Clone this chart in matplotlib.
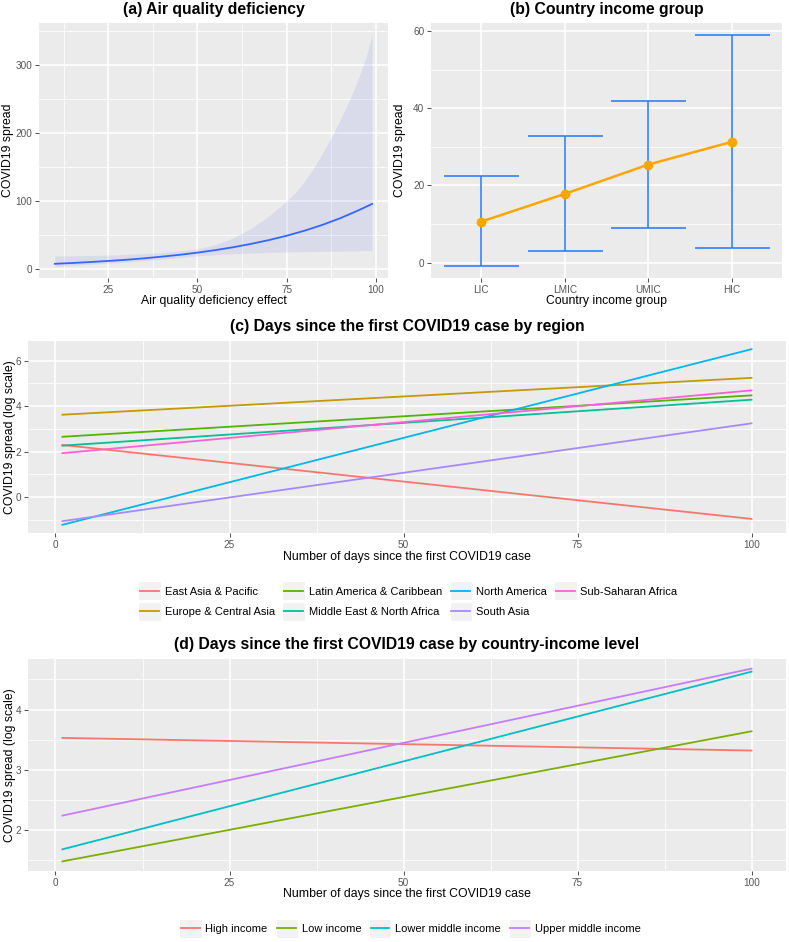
import matplotlib.pyplot as plt
from matplotlib.lines import Line2D
from matplotlib.patches import Rectangle
from matplotlib.legend_handler import HandlerBase
from matplotlib.ticker import MultipleLocator

plt.rcParams['font.family'] = ['Liberation Sans', 'DejaVu Sans']

# (a) air quality deficiency: fitted spread with confidence band
aq_effect = [10, 15, 20, 25, 30, 35, 40, 45, 50, 55, 60, 65, 70, 75, 80, 85, 90, 95, 99]
aq_fit = [8.0, 9.2, 10.6, 12.2, 13.9, 16.0, 18.5, 21.2, 24.4, 28.1, 32.3, 37.2,
          42.8, 49.2, 56.6, 65.1, 74.9, 86.2, 96.0]
band_x = [10, 15, 20, 25, 30, 35, 40, 45, 50, 55, 60, 62.5, 65, 67.5, 70, 72.5,
          75, 77.5, 80, 82.5, 85, 87.5, 90, 92.5, 95, 97.5, 99]
band_upper = [19.5, 19.8, 20.2, 20.8, 21.8, 23.0, 24.5, 27.0, 30.0, 36.0, 46.0, 53.0,
              60.0, 69.0, 78.0, 89.0, 100.0, 113.0, 129.0, 148.0, 170.0, 193.0,
              219.0, 247.0, 278.0, 315.0, 345.0]
band_lower = [3.8, 5.5, 7.2, 8.9, 10.6, 12.6, 14.8, 17.2, 19.6, 21.3, 22.8, 23.3,
              23.8, 24.2, 24.6, 25.0, 25.3, 25.6, 25.8, 26.1, 26.3, 26.5, 26.7,
              26.9, 27.1, 27.3, 27.4]

# (b) country income group
income_groups = ['LIC', 'LMIC', 'UMIC', 'HIC']
income_mid = [10.6, 17.8, 25.4, 31.3]
income_low = [-1.0, 3.0, 8.9, 3.7]
income_high = [22.4, 32.7, 41.9, 59.1]

# (c) days since first case by region (start = day 1, end = day 100)
days = [1, 100]
regions = ['East Asia & Pacific', 'Europe & Central Asia', 'Latin America & Caribbean',
           'Middle East & North Africa', 'North America', 'South Asia', 'Sub-Saharan Africa']
region_start = [2.29, 3.62, 2.65, 2.26, -1.22, -1.06, 1.93]
region_end = [-0.96, 5.24, 4.47, 4.28, 6.50, 3.24, 4.69]
region_colors = ['#F8766D', '#C49A00', '#53B400', '#00C094', '#00B6EB', '#A58AFF', '#FB61D7']

# (d) days since first case by country-income level
levels = ['High income', 'Low income', 'Lower middle income', 'Upper middle income']
level_start = [3.53, 1.48, 1.68, 2.24]
level_end = [3.32, 3.64, 4.63, 4.68]
level_colors = ['#F8766D', '#7CAE00', '#00BFC4', '#C77CFF']

W, H = 789, 942
fig = plt.figure(figsize=(W / 100, H / 100), dpi=100)


def px_axes(left, top, right, bottom):
    return fig.add_axes([left / W, 1 - bottom / H, (right - left) / W, (bottom - top) / H])


def gg_style(ax):
    ax.set_facecolor('#EBEBEB')
    for s in ax.spines.values():
        s.set_visible(False)
    ax.grid(which='major', color='white', lw=1.1)
    ax.grid(which='minor', color='white', lw=0.55)
    ax.set_axisbelow(True)
    ax.tick_params(which='major', length=2.75, width=0.6, color='#333333',
                   labelsize=7.2, labelcolor='#555555', pad=2)
    ax.tick_params(which='minor', length=0)


def labels(ax, xlabel, ylabel, left, top, right, bottom, ylab_x, xlab_y):
    w, h = right - left, bottom - top
    ax.set_xlabel(xlabel, fontsize=8.8, va='center')
    ax.set_ylabel(ylabel, fontsize=8.8, va='center')
    ax.xaxis.set_label_coords(0.5, -(xlab_y - bottom) / h)
    ax.yaxis.set_label_coords((ylab_x - left) / w, 0.5)


def title(text, left, right, y):
    fig.text((left + right) / 2 / W, 1 - y / H, text, fontsize=11.3,
             fontweight='bold', ha='center', va='center')


class KeyHandler(HandlerBase):
    # ggplot-like legend key: grey square with the line through its middle
    def create_artists(self, legend, orig_handle, xdescent, ydescent,
                       width, height, fontsize, trans):
        mid = 0.36 * fontsize
        box_h = 1.72 * fontsize
        x0 = -xdescent
        rect = Rectangle((x0, mid - box_h / 2), width, box_h, facecolor='#F2F2F2',
                         edgecolor='white', lw=0.8, transform=trans)
        line = Line2D([x0 + 0.08 * width, x0 + 0.92 * width], [mid, mid],
                      color=orig_handle.get_color(), lw=1.3, transform=trans)
        return [rect, line]


def legend(colors, names, x, y):
    handles = [Line2D([], [], color=c) for c in colors]
    fig.legend(handles, names, ncol=4, loc='center',
               bbox_to_anchor=(x / W, 1 - y / H), frameon=False, fontsize=8.0,
               handler_map={Line2D: KeyHandler()},
               handlelength=2.0, handleheight=2.2, labelspacing=0.2,
               handletextpad=0.35, columnspacing=0.7, borderpad=0)


# ---- (a)
box_a = (39, 23, 388, 278)
ax = px_axes(*box_a)
gg_style(ax)
ax.fill_between(band_x, band_lower, band_upper, color='#4A5FE8', alpha=0.11, lw=0)
ax.plot(aq_effect, aq_fit, color='#3366FF', lw=1.3)
ax.set_xticks([25, 50, 75, 100])
ax.xaxis.set_minor_locator(MultipleLocator(12.5))
ax.set_yticks([0, 100, 200, 300])
ax.yaxis.set_minor_locator(MultipleLocator(50))
ax.set_xlim(5.55, 103.45)
ax.set_ylim(-12.9, 362)
labels(ax, 'Air quality deficiency effect', 'COVID19 spread', *box_a, 8, 301)
title('(a) Air quality deficiency', 39, 388, 9.5)

# ---- (b)
box_b = (431, 23, 782, 278)
ax = px_axes(*box_b)
gg_style(ax)
pos = list(range(1, len(income_groups) + 1))
err = [[m - lo for m, lo in zip(income_mid, income_low)],
       [hi - m for m, hi in zip(income_mid, income_high)]]
ax.errorbar(pos, income_mid, yerr=err, fmt='none', ecolor='#2079FF',
            elinewidth=1.1, capsize=27, capthick=1.1, zorder=2)
ax.plot(pos, income_mid, color='#FFA500', lw=1.8, marker='o', ms=6, zorder=3)
ax.set_xticks(pos)
ax.set_xticklabels(income_groups)
ax.set_xlim(0.4, 4.6)
ax.set_yticks([0, 20, 40, 60])
ax.yaxis.set_minor_locator(MultipleLocator(10))
ax.set_ylim(-4.0, 62.1)
labels(ax, 'Country income group', 'COVID19 spread', *box_b, 400, 301)
title('(b) Country income group', 431, 782, 9.5)

# ---- (c)
box_c = (28, 341, 786, 533)
ax = px_axes(*box_c)
gg_style(ax)
for s, e, c in zip(region_start, region_end, region_colors):
    ax.plot(days, [s, e], color=c, lw=1.3)
ax.set_xticks([0, 25, 50, 75, 100])
ax.xaxis.set_minor_locator(MultipleLocator(12.5))
ax.set_yticks([0, 2, 4, 6])
ax.yaxis.set_minor_locator(MultipleLocator(1))
ax.set_xlim(-3.95, 104.95)
ax.set_ylim(-1.58, 6.86)
labels(ax, 'Number of days since the first COVID19 case', 'COVID19 spread (log scale)',
       *box_c, 10, 557)
title('(c) Days since the first COVID19 case by region', 28, 786, 327)
legend(region_colors, regions, 408, 601.5)

# ---- (d)
box_d = (28, 659, 786, 871)
ax = px_axes(*box_d)
gg_style(ax)
for s, e, c in zip(level_start, level_end, level_colors):
    ax.plot(days, [s, e], color=c, lw=1.3)
ax.set_xticks([0, 25, 50, 75, 100])
ax.xaxis.set_minor_locator(MultipleLocator(12.5))
ax.set_yticks([2, 3, 4])
ax.yaxis.set_minor_locator(MultipleLocator(0.5))
ax.set_xlim(-3.95, 104.95)
ax.set_ylim(1.32, 4.84)
labels(ax, 'Number of days since the first COVID19 case', 'COVID19 spread (log scale)',
       *box_d, 10, 894)
title('(d) Days since the first COVID19 case by country-income level', 28, 786, 645)
legend(level_colors, levels, 410, 929)

fig.savefig('out.png', dpi=100, facecolor='white')
